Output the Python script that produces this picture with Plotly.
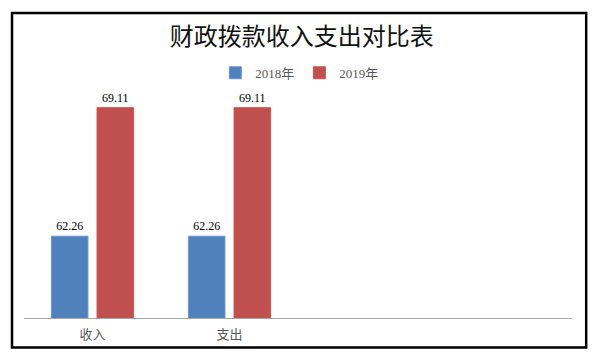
import plotly.graph_objects as go

title = "财政拨款收入支出对比表"
categories = ["收入", "支出"]
blank_slots = [" ", "  "]
series_names = ["2018年", "2019年"]
values_2018 = [62.26, 62.26]
values_2019 = [69.11, 69.11]
y_min, y_max = 57.9, 70.0

colors = ["#4F81BD", "#C0504D"]
edge_colors = ["#6C98CF", "#D2534F"]

num_font = "Liberation Serif, Times New Roman, Noto Sans CJK SC"
cjk_font = "Noto Sans CJK SC, Liberation Serif"

fig = go.Figure()
for name, vals, c, ec in zip(series_names, [values_2018, values_2019], colors, edge_colors):
    fig.add_trace(go.Bar(
        name=name, x=categories, y=vals,
        marker=dict(color=c, line=dict(color=ec, width=1)),
        text=[f"{v:.2f}" for v in vals], textposition="outside",
        textfont=dict(family=num_font, size=12, color="#000000"),
        cliponaxis=False,
    ))

# page offset (body margin) and figure size
OFF = 8
W, H = 600 - OFF, 359 - OFF
# plot area in screen pixels
SX0, SX1, SY0, SY1 = 24, 572.3, 90.7, 317.7
L, R = SX0 - OFF, W - (SX1 - OFF)
T, B = SY0 - OFF, H - (SY1 - OFF)
pw = SX1 - SX0
ph = SY1 - SY0

def px(x):
    return (x - SX0) / pw

def py(y):
    return (SY1 - y) / ph

fig.update_layout(
    width=W, height=H,
    margin=dict(l=L, r=R, t=T, b=B),
    paper_bgcolor="white", plot_bgcolor="white",
    barmode="group", bargap=0.334, bargroupgap=0.198,
    title=dict(text=title, x=px(302), xanchor="center", xref="paper",
               y=1 - (37 - OFF) / H, yanchor="middle", yref="container",
               font=dict(family=cjk_font, size=24, color="#111111")),
    legend=dict(orientation="h", x=px(300), xanchor="center", y=py(72.5), yanchor="middle",
                font=dict(family=num_font, size=13, color="#595959"),
                itemwidth=30, bgcolor="rgba(0,0,0,0)"),
    xaxis=dict(type="category", categoryorder="array",
               categoryarray=categories + blank_slots,
               range=[-0.5, len(categories) + len(blank_slots) - 0.5],
               showline=True, linecolor="#A6A6A6", linewidth=1.3,
               showgrid=False, zeroline=False, ticks="",
               tickfont=dict(family=cjk_font, size=13, color="#595959"),
               ticklabelstandoff=4),
    yaxis=dict(range=[y_min, y_max], visible=False, showgrid=False, zeroline=False),
    shapes=[
        dict(type="rect", xref="paper", yref="paper",
             x0=px(12), x1=px(586.5), y0=py(347.3), y1=py(12.7),
             line=dict(color="#000000", width=2.5), fillcolor="rgba(0,0,0,0)", layer="above"),
        dict(type="rect", xref="paper", yref="paper",
             x0=px(556), x1=px(579), y0=py(2.7), y1=py(-5),
             line=dict(color="#C8C8C8", width=1), fillcolor="rgba(0,0,0,0)"),
    ],
)

fig.write_html("out.html")
